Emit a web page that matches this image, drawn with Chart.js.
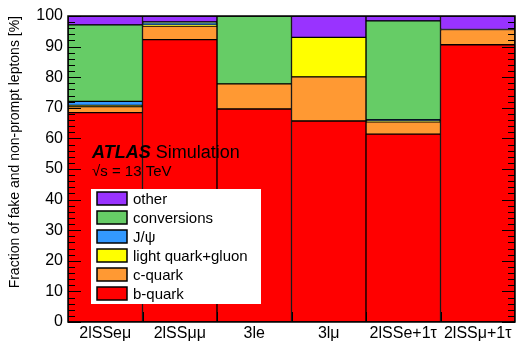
<!DOCTYPE html>
<html>
<head>
<meta charset="utf-8">
<script src="https://cdn.jsdelivr.net/npm/chart.js@4"></script>
<style>
  html, body { margin: 0; padding: 0; background: #fff; }
  #wrap { width: 516px; height: 343px; }
</style>
</head>
<body>
<div id="wrap"><canvas id="fakes"></canvas></div>
<script>
// ==========================
// DATA (fractions in %, stacked bottom to top)
// ==========================
const categories = ["2lSSeμ", "2lSSμμ", "3le", "3lμ", "2lSSe+1τ", "2lSSμ+1τ"];
const bQuark = [68.4, 92.3, 69.6, 65.7, 61.4, 90.6];
const cQuark = [2.0, 4.4, 8.2, 14.4, 4.0, 5.0];
const lightQuarkGluon = [0.4, 0.3, 0, 12.9, 0.4, 0];
const jPsi = [1.3, 0.8, 0, 0, 0.3, 0];
const conversions = [25.0, 0.3, 22.2, 0, 32.3, 0];
const other = [2.9, 1.9, 0, 7.0, 1.6, 4.4];
const yTicks = [0, 10, 20, 30, 40, 50, 60, 70, 80, 90, 100];

const FONT = "'Liberation Sans', Arial, Helvetica, sans-serif";

const sources = [
  { label: "b-quark", data: bQuark, color: "#ff0000" },
  { label: "c-quark", data: cQuark, color: "#ff9933" },
  { label: "light quark+gluon", data: lightQuarkGluon, color: "#ffff00" },
  { label: "J/ψ", data: jPsi, color: "#3399ff" },
  { label: "conversions", data: conversions, color: "#66cc66" },
  { label: "other", data: other, color: "#9933ff" },
];

// ==========================
// FRAME, TICKS, LABEL AND LEGEND
// ==========================
const rootStyle = {
  id: "rootStyle",
  afterDatasetsDraw(chart) {
    const { ctx, chartArea: area, scales } = chart;
    const xs = scales.x;
    const ys = scales.y;

    function line(x1, y1, x2, y2) {
      ctx.beginPath();
      ctx.moveTo(x1, y1);
      ctx.lineTo(x2, y2);
      ctx.stroke();
    }

    ctx.save();
    ctx.strokeStyle = "#000";
    ctx.lineWidth = 1;

    // inward ticks on both vertical axes, minor every 2
    for (let v = 0; v <= 100; v += 2) {
      const py = Math.round(ys.getPixelForValue(v)) + 0.5;
      const len = v % 10 === 0 ? 13 : 7;
      line(area.left, py, area.left + len, py);
      line(area.right, py, area.right - len, py);
    }

    // ticks at the bin edges
    for (let i = 1; i < categories.length; i++) {
      const px = Math.round((xs.getPixelForValue(i - 1) + xs.getPixelForValue(i)) / 2) + 0.5;
      line(px, area.bottom, px, area.bottom - 10);
    }

    ctx.lineWidth = 1.5;
    ctx.strokeRect(area.left, area.top, area.right - area.left, area.bottom - area.top);

    // experiment label
    const lx = area.left + 24;
    ctx.fillStyle = "#000";
    ctx.textBaseline = "alphabetic";
    ctx.textAlign = "left";
    ctx.font = "italic bold 18px " + FONT;
    ctx.fillText("ATLAS", lx, 158);
    const w = ctx.measureText("ATLAS ").width;
    ctx.font = "18px " + FONT;
    ctx.fillText("Simulation", lx + w, 158);
    ctx.font = "15px " + FONT;
    ctx.fillText("√s = 13 TeV", lx, 176);

    // legend box, top entry is the last dataset
    const box = { x: 91, y: 189, w: 170, h: 115 };
    ctx.fillStyle = "#fff";
    ctx.fillRect(box.x, box.y, box.w, box.h);
    const entries = chart.data.datasets.slice().reverse();
    entries.forEach((ds, i) => {
      const cy = 198.5 + i * 19;
      ctx.fillStyle = ds.backgroundColor;
      ctx.fillRect(97, cy - 6.5, 30, 13);
      ctx.lineWidth = 1.5;
      ctx.strokeRect(97, cy - 6.5, 30, 13);
      ctx.fillStyle = "#000";
      ctx.font = "15px " + FONT;
      ctx.textBaseline = "middle";
      ctx.fillText(ds.label, 133, cy + 1);
    });

    ctx.restore();
  },
};

// ==========================
// CHART
// ==========================
new Chart(document.getElementById("fakes"), {
  type: "bar",
  data: {
    labels: categories,
    datasets: sources.map((s) => ({
      label: s.label,
      data: s.data,
      backgroundColor: s.color,
      borderColor: "#000",
      borderWidth: 1,
      borderSkipped: false,
      categoryPercentage: 1,
      barPercentage: 1,
    })),
  },
  options: {
    responsive: true,
    maintainAspectRatio: false,
    animation: false,
    layout: { padding: { top: 16, right: 1, bottom: 0, left: 0 } },
    plugins: {
      legend: { display: false },
      tooltip: { enabled: false },
    },
    scales: {
      x: {
        stacked: true,
        grid: { display: false, drawTicks: false },
        border: { display: false },
        ticks: { color: "#000", font: { family: FONT, size: 16 }, padding: 2, maxRotation: 0, autoSkip: false },
        afterFit(scale) {
          scale.height = 21;
        },
      },
      y: {
        stacked: true,
        min: 0,
        max: 100,
        grid: { display: false, drawTicks: false },
        border: { display: false },
        afterBuildTicks(scale) {
          scale.ticks = yTicks.map((v) => ({ value: v }));
        },
        ticks: { color: "#000", font: { family: FONT, size: 16 }, padding: 5 },
        title: {
          display: true,
          text: "Fraction of fake and non-prompt leptons [%]",
          align: "end",
          color: "#000",
          font: { family: FONT, size: 14 },
          padding: { top: 7, bottom: 0 },
        },
        afterFit(scale) {
          scale.width = 68;
        },
      },
    },
  },
  plugins: [rootStyle],
});
</script>
</body>
</html>
